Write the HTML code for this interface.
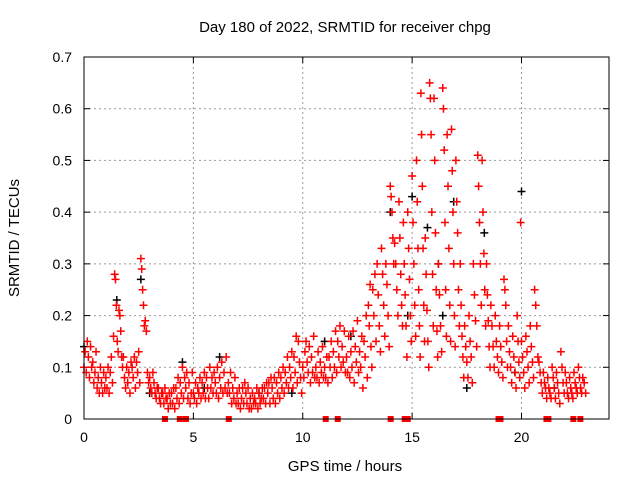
<!DOCTYPE html>
<html><head><meta charset="utf-8"><style>
body{margin:0;background:#fff}
svg text{font-family:"Liberation Sans",sans-serif;fill:#000}
</style></head><body>
<svg id="c" width="640" height="480" xmlns="http://www.w3.org/2000/svg">
<text x="345" y="32" font-size="15" text-anchor="middle">Day 180 of 2022, SRMTID for receiver chpg</text>
<text x="345" y="471" font-size="15" text-anchor="middle">GPS time / hours</text>
<text transform="translate(19,238) rotate(-90)" font-size="15" text-anchor="middle">SRMTID / TECUs</text>
<g id="grid"></g><g id="ticks"></g><g id="marks"></g>
<rect x="84" y="57" width="525" height="362" fill="none" stroke="#000" stroke-width="1"/>
</svg>
<script>
const xTicks=[0,5,10,15,20];
const yTicks=[0,0.1,0.2,0.3,0.4,0.5,0.6,0.7];
const yTickLabels=["0","0.1","0.2","0.3","0.4","0.5","0.6","0.7"];
const slotStart=0, slotStep=0.2;
const redSlots=[
[.10,.13,.09,.15],[.12,.08,.14,.10],[.11,.07,.09,.13],[.06,.08,.05,.10],[.07,.05,.09,.06],[.08,.06,.10,.05],[.09,.12,.07,.16],[.28,.27,.22,.15,.13],[.21,.20,.17,.12,.10],[.12,.08,.06,.10],
[.07,.09,.05,.11],[.10,.08,.12,.06],[.11,.09,.13,.07],[.31,.29,.25,.22,.18],[.19,.17,.09,.07],[.08,.06,.05,.09],[.07,.05,.04,.06],[.06,.04,.03,.05],[.05,.03,.06,.04],[.04,.02,.05,.03],
[.05,.03,.06,.02],[.06,.04,.08,.03],[.07,.05,.10,.04],[.08,.06,.09,.04],[.07,.03,.05,.09],[.05,.04,.07,.03],[.06,.05,.08,.04],[.07,.05,.09,.04],[.08,.06,.04,.10],[.06,.08,.05,.09],
[.07,.05,.10,.04],[.08,.06,.11,.05],[.09,.06,.12,.05],[.07,.05,.09,.03],[.06,.04,.08,.03],[.05,.03,.06,.02],[.04,.06,.03,.07],[.05,.03,.06,.02],[.04,.02,.05,.03],[.04,.03,.06,.02],
[.05,.03,.04,.06],[.04,.06,.03,.07],[.05,.07,.03,.08],[.06,.04,.08,.03],[.07,.05,.09,.04],[.08,.06,.10,.05],[.09,.07,.12,.06],[.10,.08,.13,.06],[.12,.09,.16,.07],[.15,.11,.08,.05],
[.10,.08,.13,.15],[.11,.09,.14,.07],[.12,.09,.16,.08],[.10,.08,.13,.07],[.11,.09,.14,.08],[.10,.08,.12,.07],[.12,.10,.15,.08],[.13,.10,.17,.09],[.15,.12,.18,.10],[.14,.11,.17,.09],
[.12,.09,.16,.08],[.13,.10,.17,.07],[.14,.11,.19,.09],[.13,.10,.16,.06],[.15,.12,.20,.08],[.22,.18,.26,.14,.10],[.25,.20,.28,.15],[.30,.24,.18,.13],[.33,.28,.22,.16],[.30,.26,.20,.14],
[.45,.43,.40,.35,.30],[.34,.30,.25,.20],[.42,.35,.28,.22,.18],[.38,.30,.24,.18,.12],[.40,.33,.27,.20,.15],[.47,.38,.30,.22,.16],[.50,.42,.33,.25,.18,.12],[.63,.55,.45,.33,.22,.15],[.35,.28,.21,.15,.10],[.65,.62,.55,.40,.28,.18],
[.62,.50,.36,.25,.17,.12],[.30,.24,.18,.13],[.64,.60,.52,.38,.25,.16],[.55,.45,.33,.22,.15],[.56,.48,.40,.30,.20,.14],[.50,.42,.36,.25,.18],[.30,.22,.16,.12,.08],[.18,.14,.11,.08],[.20,.15,.12,.07],[.30,.24,.19,.14],
[.51,.45,.38,.30,.22],[.50,.40,.32,.25,.18],[.30,.24,.19,.14,.10],[.22,.18,.14,.10],[.20,.15,.12,.09],[.18,.14,.11,.08],[.27,.25,.22,.15,.10],[.18,.13,.10,.07],[.16,.12,.09,.06],[.20,.15,.11,.08,.38],
[.15,.12,.09,.06],[.16,.13,.10,.07],[.18,.14,.11,.08],[.25,.22,.18,.12],[.11,.09,.07,.05],[.09,.07,.06,.04],[.08,.06,.05,.04],[.10,.08,.06,.04],[.09,.07,.05,.03],[.13,.10,.07,.05],
[.09,.07,.05,.04],[.08,.06,.05,.04],[.09,.07,.06,.05],[.10,.08,.06,.05],[.08,.07,.05]];
const blackT=[0,1.5,2.6,4.5,5.5,6.2,9.5,12.2,14,15,15.7,16.2,16.9,17.5,18.3,19.7,20,21.5,14.8,16.4,11,3,8];
const blackV=[.14,.23,.27,.11,.06,.12,.05,.16,.40,.43,.37,.30,.42,.06,.36,.09,.44,.06,.20,.20,.15,.05,.05];
const zeroT=[3.7,4.38,4.66,6.62,11.05,11.6,14.02,14.66,14.8,18.95,19.04,21.14,21.23,22.37,22.69];

const NS="http://www.w3.org/2000/svg";
const X0=84,X1=609,Y0=419,Y1=57,XMAX=24,YMAX=0.7;
const sx=v=>X0+v/XMAX*(X1-X0), sy=v=>Y0-v/YMAX*(Y0-Y1);
function mk(tag,at,parent){const e=document.createElementNS(NS,tag);for(const k in at)e.setAttribute(k,at[k]);document.getElementById(parent).appendChild(e);return e;}
xTicks.forEach(t=>{
 const x=sx(t);
 if(t>0){const g=mk('line',{x1:x,x2:x,y1:Y0,y2:Y1,stroke:'#999','stroke-dasharray':'2,3'},'grid');
 
 }
 mk('line',{x1:x,x2:x,y1:Y0,y2:Y0-6,stroke:'#000'},'ticks');
 mk('line',{x1:x,x2:x,y1:Y1,y2:Y1+6,stroke:'#000'},'ticks');
 const l=mk('text',{x:x,y:Y0+23,'font-size':14,'text-anchor':'middle'},'ticks');l.textContent=t;
 
 
});
yTicks.forEach((t,i)=>{
 const y=sy(t);
 if(t>0&&t<YMAX){const g=mk('line',{x1:X0,x2:X1,y1:y,y2:y,stroke:'#999','stroke-dasharray':'2,3'},'grid');
 
 }
 mk('line',{x1:X0,x2:X0+6,y1:y,y2:y,stroke:'#000'},'ticks');
 mk('line',{x1:X1,x2:X1-6,y1:y,y2:y,stroke:'#000'},'ticks');
 const l=mk('text',{x:X0-12,y:y+5,'font-size':14,'text-anchor':'end'},'ticks');l.textContent=yTickLabels[i];
 
 
});
function plus(t,v,col,name){
 const x=sx(t),y=sy(v);
 const p=mk('path',{d:`M${x-4},${y}h8M${x},${y-4}v8`,stroke:col,'stroke-width':1.5,fill:'none'},'marks');
 
 
}
blackT.forEach((t,i)=>plus(t,blackV[i],'#000','black-point'));
redSlots.forEach((vals,i)=>{const t=slotStart+i*slotStep;const n=vals.length;vals.forEach((v,k)=>plus(t+k*slotStep/n,v,'#f00','red-point'));});
zeroT.forEach(t=>{
 const r=mk('rect',{x:sx(t)-3,y:Y0-3,width:6,height:6,fill:'#f00'},'marks');
 
 
});
</script>
</body></html>
